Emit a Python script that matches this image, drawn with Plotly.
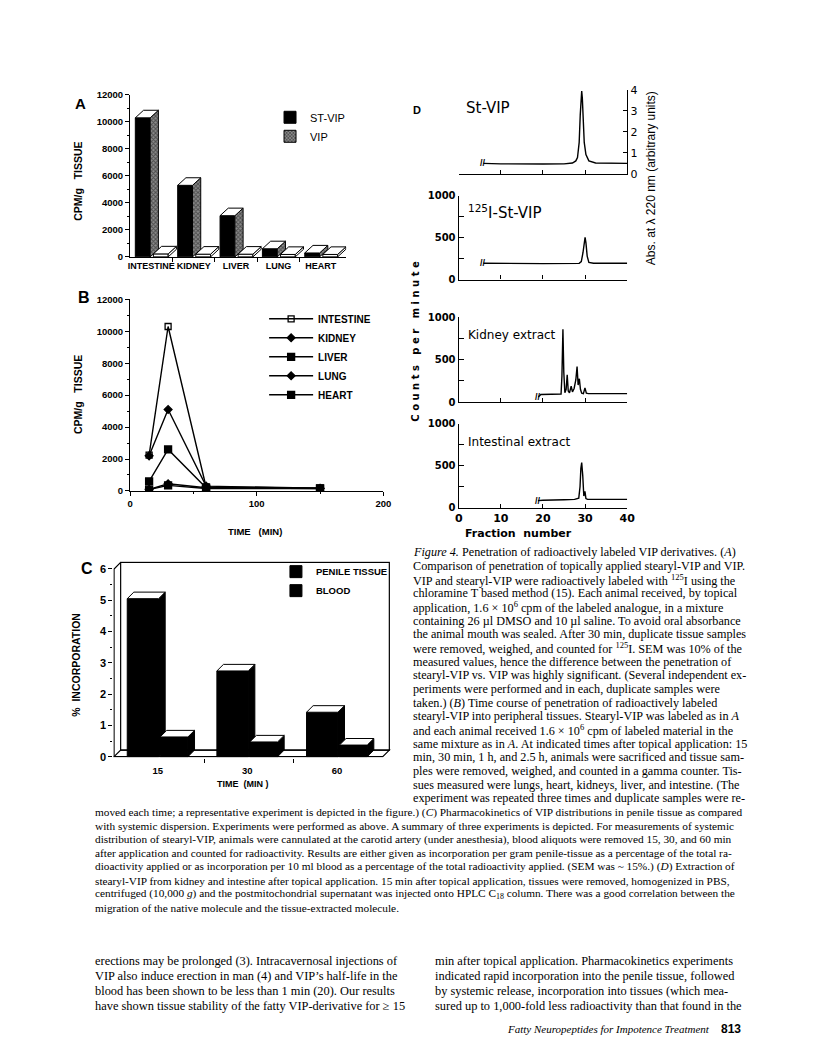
import plotly.graph_objects as go

W, H = 816, 1057

# ---------------- data ----------------
# Panel A : CPM/g tissue 30 min after topical application
a_tissues = ["INTESTINE", "KIDNEY", "LIVER", "LUNG", "HEART"]
a_st_vip = [10300, 5300, 3050, 600, 290]
a_vip = [220, 200, 200, 180, 180]
a_yticks = [0, 2000, 4000, 6000, 8000, 10000, 12000]

# Panel B : time course (min) of CPM/g tissue
b_time = [15, 30, 60, 150]
b_intestine = [2250, 10300, 250, 180]
b_kidney = [2200, 5100, 300, 170]
b_liver = [600, 2600, 200, 160]
b_lung = [100, 450, 200, 150]
b_heart = [80, 350, 150, 150]
b_xticks = [0, 100, 200]

# Panel C : % incorporation
c_times = ["15", "30", "60"]
c_penile = [5.05, 2.74, 1.42]
c_blood = [0.63, 0.47, 0.37]
c_yticks = [0, 1, 2, 3, 4, 5, 6]

# Panel D : HPLC profiles (fraction number vs signal)
d_frac_ticks = [0, 10, 20, 30, 40]
d_cpm_ticks = [0, 500, 1000]
d_cpm_minor = [250, 750]
d_abs_ticks = [0, 1, 2, 3, 4]

d_stvip_frac = [5.85, 10, 20, 25, 27.0, 27.8, 28.2, 28.6, 28.85, 29.05, 29.2, 29.35, 29.55, 29.8, 30.2, 30.9, 32.5, 40]
d_stvip_abs = [0.5, 0.48, 0.47, 0.48, 0.52, 0.62, 0.78, 1.5, 2.8, 3.85, 3.95, 3.6, 2.6, 1.5, 0.92, 0.62, 0.52, 0.5]

d_i125_frac = [5.85, 10, 20, 28.6, 29.1, 29.5, 29.8, 30.0, 30.2, 30.5, 30.9, 32, 40]
d_i125_cpm = [195, 192, 190, 193, 215, 320, 470, 502, 440, 280, 205, 195, 195]

d_kidney_frac = [18.9, 19.5, 22, 24.3, 24.5, 24.74, 24.95, 25.2, 25.5, 25.76, 26.0, 26.3, 26.7, 27.0, 27.4,
                 27.8, 28.1, 28.35, 28.64, 28.9, 29.2, 29.6, 29.97, 30.3, 30.8, 35, 40]
d_kidney_cpm = [60, 90, 92, 95, 300, 857, 350, 110, 150, 322, 130, 110, 186, 120, 160,
                260, 419, 200, 275, 150, 105, 100, 167, 105, 100, 100, 100]

d_intest_frac = [18.8, 20, 25, 27.5, 28.5, 28.8, 29.0, 29.2, 29.45, 29.7, 29.97, 30.2, 30.6, 32, 40]
d_intest_cpm = [85, 90, 95, 100, 115, 250, 470, 537, 380, 140, 196, 110, 100, 100, 100]

# ---------------- text ----------------
cap_right = [
    "<i>Figure 4.</i> Penetration of radioactively labeled VIP derivatives. (<i>A</i>)",
    "Comparison of penetration of topically applied stearyl-VIP and VIP.",
    "VIP and stearyl-VIP were radioactively labeled with <sup>125</sup>I using the",
    "chloramine T based method (15). Each animal received, by topical",
    "application, 1.6 × 10<sup>6</sup> cpm of the labeled analogue, in a mixture",
    "containing 26 µl DMSO and 10 µl saline. To avoid oral absorbance",
    "the animal mouth was sealed. After 30 min, duplicate tissue samples",
    "were removed, weighed, and counted for <sup>125</sup>I. SEM was 10% of the",
    "measured values, hence the difference between the penetration of",
    "stearyl-VIP vs. VIP was highly significant. (Several independent ex-",
    "periments were performed and in each, duplicate samples were",
    "taken.) (<i>B</i>) Time course of penetration of radioactively labeled",
    "stearyl-VIP into peripheral tissues. Stearyl-VIP was labeled as in <i>A</i>",
    "and each animal received 1.6 × 10<sup>6</sup> cpm of labeled material in the",
    "same mixture as in <i>A</i>. At indicated times after topical application: 15",
    "min, 30 min, 1 h, and 2.5 h, animals were sacrificed and tissue sam-",
    "ples were removed, weighed, and counted in a gamma counter. Tis-",
    "sues measured were lungs, heart, kidneys, liver, and intestine. (The",
    "experiment was repeated three times and duplicate samples were re-",
]
cap_full = [
    "moved each time; a representative experiment is depicted in the figure.) (<i>C</i>) Pharmacokinetics of VIP distributions in penile tissue as compared",
    "with systemic dispersion. Experiments were performed as above. A summary of three experiments is depicted. For measurements of systemic",
    "distribution of stearyl-VIP, animals were cannulated at the carotid artery (under anesthesia), blood aliquots were removed 15, 30, and 60 min",
    "after application and counted for radioactivity. Results are either given as incorporation per gram penile-tissue as a percentage of the total ra-",
    "dioactivity applied or as incorporation per 10 ml blood as a percentage of the total radioactivity applied. (SEM was ~ 15%.) (<i>D</i>) Extraction of",
    "stearyl-VIP from kidney and intestine after topical application. 15 min after topical application, tissues were removed, homogenized in PBS,",
    "centrifuged (10,000 <i>g</i>) and the postmitochondrial supernatant was injected onto HPLC C<sub>18</sub> column. There was a good correlation between the",
    "migration of the native molecule and the tissue-extracted molecule.",
]
body_left = [
    "erections may be prolonged (3). Intracavernosal injections of",
    "VIP also induce erection in man (4) and VIP’s half-life in the",
    "blood has been shown to be less than 1 min (20). Our results",
    "have shown tissue stability of the fatty VIP-derivative for ≥ 15",
]
body_right = [
    "min after topical application. Pharmacokinetics experiments",
    "indicated rapid incorporation into the penile tissue, followed",
    "by systemic release, incorporation into tissues (which mea-",
    "sured up to 1,000-fold less radioactivity than that found in the",
]

# ---------------- style ----------------
SANS = "Liberation Sans, Arial, sans-serif"
SERIF = "Liberation Serif, Times New Roman, serif"
DSANS = "DejaVu Sans, Liberation Sans, sans-serif"
A_DX, A_DY = 0.194, 561
C_DX, C_DY = 0.0735, 0.21
HATCH = dict(shape="x", fgcolor="#111111", bgcolor="#8a8a8a", size=3, solidity=0.55)


def fx(p):
    return p / W


def fy(p):
    return 1 - p / H


def faces(centers, width, values, dx, dy):
    tx, ty, sx, sy = [], [], [], []
    for c, v in zip(centers, values):
        xl, xr = c - width / 2, c + width / 2
        tx += [xl, xl + dx, xr + dx, xr, xl, None]
        ty += [v, v + dy, v + dy, v, v, None]
        sx += [xr, xr + dx, xr + dx, xr, xr, None]
        sy += [0, dy, v + dy, v, 0, None]
    return tx, ty, sx, sy


def poly(x, y, xa, ya, fill="white", pattern=None):
    kw = dict(x=x, y=y, mode="lines", fill="toself", fillcolor=fill,
              line=dict(color="black", width=1), xaxis=xa, yaxis=ya,
              showlegend=False, hoverinfo="skip")
    if pattern:
        kw["fillpattern"] = pattern
    return go.Scatter(**kw)


fig = go.Figure()

# ---------- Panel A ----------
a_idx = list(range(len(a_tissues)))
a_st_x = [i + 0.175 for i in a_idx]
a_vip_x = [i + 0.601 for i in a_idx]
fig.add_trace(go.Bar(x=a_st_x, y=a_st_vip, width=0.35, name="ST-VIP", legend="legend2",
                     marker=dict(color="black", line=dict(color="black", width=1)),
                     xaxis="x", yaxis="y", hoverinfo="skip"))
fig.add_trace(go.Bar(x=a_vip_x, y=a_vip, width=0.35, name="VIP", showlegend=False,
                     marker=dict(color="white", line=dict(color="black", width=1)),
                     xaxis="x", yaxis="y", hoverinfo="skip"))
tx, ty, sx, sy = faces(a_st_x, 0.35, a_st_vip, A_DX, A_DY)
fig.add_trace(poly(sx, sy, "x", "y", fill="#555555", pattern=HATCH))
fig.add_trace(poly(tx, ty, "x", "y"))
tx, ty, sx, sy = faces(a_vip_x, 0.35, a_vip, A_DX, A_DY)
fig.add_trace(poly(sx, sy, "x", "y"))
fig.add_trace(poly(tx, ty, "x", "y"))
fig.add_trace(go.Bar(x=[None], y=[None], name="VIP", legend="legend2",
                     marker=dict(color="#555555", pattern=HATCH, line=dict(color="black", width=1)),
                     xaxis="x", yaxis="y"))

# ---------- Panel B ----------
b_specs = [("INTESTINE", b_intestine, "square-open", 6),
           ("KIDNEY", b_kidney, "diamond", 6),
           ("LIVER", b_liver, "square", 7),
           ("LUNG", b_lung, "diamond", 6),
           ("HEART", b_heart, "square", 7)]
for name, vals, sym, sz in b_specs:
    fig.add_trace(go.Scatter(x=b_time, y=vals, name=name, mode="lines+markers", legend="legend",
                             line=dict(color="black", width=1.4),
                             marker=dict(symbol=sym, size=sz, color="black", line=dict(color="black", width=1.3)),
                             xaxis="x2", yaxis="y2", hoverinfo="skip"))

# ---------- Panel C ----------
c_idx = list(range(len(c_times)))
c_pen_x = [i + 0.175 for i in c_idx]
c_blood_x = [i + 0.522 for i in c_idx]
fig.add_trace(go.Bar(x=c_pen_x, y=c_penile, width=0.35, name="PENILE TISSUE", legend="legend3",
                     marker=dict(color="black", line=dict(color="black", width=1)),
                     xaxis="x3", yaxis="y3", hoverinfo="skip"))
fig.add_trace(go.Bar(x=c_blood_x, y=c_blood, width=0.31, name="BLOOD", legend="legend3",
                     marker=dict(color="black", line=dict(color="black", width=1)),
                     xaxis="x3", yaxis="y3", hoverinfo="skip"))
tx, ty, sx, sy = faces(c_pen_x, 0.35, c_penile, C_DX, C_DY)
fig.add_trace(poly(sx, sy, "x3", "y3", fill="black"))
fig.add_trace(poly(tx, ty, "x3", "y3"))
tx, ty, sx, sy = faces(c_blood_x, 0.31, c_blood, C_DX, C_DY)
fig.add_trace(poly(sx, sy, "x3", "y3", fill="black"))
fig.add_trace(poly(tx, ty, "x3", "y3"))

# ---------- Panel D ----------
dline = dict(color="black", width=1.4)
fig.add_trace(go.Scatter(x=d_stvip_frac, y=d_stvip_abs, mode="lines", line=dline,
                         xaxis="x4", yaxis="y4", showlegend=False, hoverinfo="skip"))
fig.add_trace(go.Scatter(x=d_i125_frac, y=d_i125_cpm, mode="lines", line=dline,
                         xaxis="x5", yaxis="y5", showlegend=False, hoverinfo="skip"))
fig.add_trace(go.Scatter(x=d_kidney_frac, y=d_kidney_cpm, mode="lines", line=dline,
                         xaxis="x6", yaxis="y6", showlegend=False, hoverinfo="skip"))
fig.add_trace(go.Scatter(x=d_intest_frac, y=d_intest_cpm, mode="lines", line=dline,
                         xaxis="x7", yaxis="y7", showlegend=False, hoverinfo="skip"))

# ---------------- axes ----------------
common = dict(showgrid=False, zeroline=False, linecolor="black", tickcolor="black", fixedrange=True)
bold = lambda s, fam=SANS: dict(family=fam, size=s, color="black", weight="bold")
reg = lambda s, fam=SANS: dict(family=fam, size=s, color="black")

layout = dict(
    width=W, height=H, margin=dict(l=0, r=0, t=0, b=0),
    paper_bgcolor="white", plot_bgcolor="rgba(0,0,0,0)", barmode="overlay",
    # A
    xaxis=dict(domain=[fx(128), fx(347.4)], range=[-0.123, 4.98], anchor="y", showline=True, linewidth=1.2,
               tickmode="array", tickvals=[i + 0.377 for i in a_idx], ticktext=a_tissues, ticks="",
               tickangle=0, tickfont=bold(9),
               minor=dict(tickmode="array", tickvals=[i + 0.877 for i in a_idx[:-1]], ticks="outside",
                          ticklen=4, tickcolor="black"), **common),
    yaxis=dict(domain=[fy(254), fy(90)], range=[0, 12000], anchor="x", showline=True, linewidth=1.2,
               tickmode="array", tickvals=a_yticks, ticktext=[str(v) for v in a_yticks],
               ticks="outside", ticklen=4, tickfont=bold(9.5),
               minor=dict(dtick=1000, ticks="outside", ticklen=2, tickcolor="black"), **common),
    # B
    xaxis2=dict(domain=[fx(128), fx(385)], range=[0, 200], anchor="y2", showline=True, linewidth=1.2,
                tickmode="array", tickvals=b_xticks, ticktext=[str(v) for v in b_xticks],
                ticks="outside", ticklen=4, tickfont=bold(9.5),
                minor=dict(dtick=50, ticks="outside", ticklen=2, tickcolor="black"), **common),
    yaxis2=dict(domain=[fy(491), fy(297)], range=[0, 12000], anchor="x2", showline=True, linewidth=1.2,
                tickmode="array", tickvals=a_yticks, ticktext=[str(v) for v in a_yticks],
                ticks="outside", ticklen=4, tickfont=bold(9.5),
                minor=dict(dtick=1000, ticks="outside", ticklen=2, tickcolor="black"), **common),
    # C
    xaxis3=dict(domain=[fx(110.97), fx(393.5)], range=[-0.155, 2.95], anchor="y3", showline=False,
                tickmode="array", tickvals=[i + 0.34 for i in c_idx], ticktext=c_times, ticks="",
                tickfont=bold(9.5), ticklabelstandoff=6,
                minor=dict(tickmode="array", tickvals=[i + 0.86 for i in c_idx[:-1]], ticks="outside",
                           ticklen=4, tickcolor="black"), **common),
    yaxis3=dict(domain=[fy(760.95), fy(562.06)], range=[-0.03, 6.25], anchor="x3", showline=False,
                tickmode="array", tickvals=c_yticks, ticktext=[str(v) for v in c_yticks],
                ticks="outside", ticklen=4, tickfont=bold(11),
                minor=dict(tickmode="array", tickvals=[v + 0.5 for v in c_yticks[:-1]], ticks="outside",
                           ticklen=2, tickcolor="black"), **common),
)

DX0, DX1 = 461.5, 632.5
d_rows = [(4, 170, 85), (5, 277, 192), (6, 401, 315), (7, 508, 423)]
for n, ybot, ytop in d_rows:
    layout[f"xaxis{n}"] = dict(domain=[fx(DX0), fx(DX1)], range=[0, 40], anchor=f"y{n}", showline=True,
                               linewidth=1.3, tickmode="array", tickvals=d_frac_ticks,
                               ticktext=[str(v) for v in d_frac_ticks], ticks="inside",
                               ticklen=4, showticklabels=(n == 7), tickfont=bold(11, DSANS), **common)
    if n == 4:
        layout["yaxis4"] = dict(domain=[fy(ybot), fy(ytop)], range=[0, 4], anchor="x4", side="right",
                                showline=True, linewidth=1.3, tickmode="array", tickvals=d_abs_ticks,
                                ticktext=[str(v) for v in d_abs_ticks],
                                ticks="inside", ticklen=4, tickfont=reg(11, DSANS), **common)
    else:
        layout[f"yaxis{n}"] = dict(domain=[fy(ybot), fy(ytop)], range=[0, 1000], anchor=f"x{n}",
                                   showline=True, linewidth=1.3, tickmode="array", tickvals=d_cpm_ticks,
                                   ticktext=[str(v) for v in d_cpm_ticks], ticks="inside", ticklen=5,
                                   minor=dict(tickmode="array", tickvals=d_cpm_minor, ticks="inside",
                                              ticklen=5, tickcolor="black"),
                                   tickfont=bold(10, DSANS), **common)
layout["yaxis9"] = dict(overlaying="y5", anchor="x5", side="right", range=[0, 4], showline=True,
                        linewidth=1.3, tickmode="array", tickvals=d_abs_ticks,
                        ticktext=[str(v) for v in d_abs_ticks], ticks="inside", ticklen=4,
                        tickfont=reg(11, DSANS), **common)

# legends
leg_common = dict(bgcolor="rgba(0,0,0,0)", borderwidth=0, xanchor="left", yanchor="top", tracegroupgap=0)
layout["legend"] = dict(x=fx(264), y=fy(302), font=bold(10), itemwidth=44, **leg_common)
layout["legend2"] = dict(x=fx(270), y=fy(98), font=reg(11), **leg_common)
layout["legend3"] = dict(x=fx(276), y=fy(558), font=bold(9.5), **leg_common)

# shapes: 3D frame of panel C
C_XMIN, C_XMAX, C_TOP = -0.147, 2.85, 6
shapes = [
    dict(type="path", xref="x3", yref="y3", layer="below", fillcolor="white",
         line=dict(color="black", width=1.2),
         path=f"M{C_XMIN},0 L{C_XMIN + C_DX},{C_DY} L{C_XMAX + C_DX},{C_DY} L{C_XMAX},0 Z"),
    dict(type="rect", xref="x3", yref="y3", layer="below", line=dict(color="black", width=1.2),
         x0=C_XMIN + C_DX, y0=C_DY, x1=C_XMAX + C_DX, y1=C_TOP + C_DY),
    dict(type="path", xref="x3", yref="y3", layer="below", line=dict(color="black", width=1.2),
         path=f"M{C_XMIN},0 L{C_XMIN},{C_TOP} L{C_XMIN + C_DX},{C_TOP + C_DY}"),
]
layout["shapes"] = shapes


def ann(text, x, y, font, angle=0, xanchor="center", yanchor="middle"):
    return dict(text=text, x=fx(x), y=fy(y), xref="paper", yref="paper", showarrow=False, font=font,
                textangle=angle, xanchor=xanchor, yanchor=yanchor)


annotations = [
    ann("A", 78, 99, bold(15)),
    ann("B", 81, 295, bold(16)),
    ann("C", 84, 570, bold(16)),
    ann("D", 419, 105, bold(11)),
    ann("CPM/g\u00a0\u00a0\u00a0TISSUE", 75, 177, bold(10.5), angle=-90),
    ann("CPM/g\u00a0\u00a0\u00a0TISSUE", 75, 393, bold(10.5), angle=-90),
    ann("TIME\u00a0\u00a0\u00a0(MIN)", 255, 532, bold(9.5)),
    ann("%\u00a0 INCORPORATION", 73, 667, bold(10.5), angle=-90),
    ann("TIME\u00a0\u00a0(MIN )", 243, 788, bold(9)),
    ann("St-VIP", 467, 103, reg(15, DSANS), xanchor="left"),
    ann("<sup>125</sup>I-St-VIP", 469, 209, reg(15, DSANS), xanchor="left"),
    ann("Kidney extract", 469, 333, reg(12, DSANS), xanchor="left"),
    ann("Intestinal extract", 469, 441, reg(12, DSANS), xanchor="left"),
    ann("Fraction\u00a0\u00a0number", 522, 534, bold(11, DSANS)),
    ann("C o u n t s\u00a0\u00a0 p e r\u00a0\u00a0 m i n u t e", 418, 339, bold(10, DSANS), angle=-90),
    ann("Abs. at λ 220 nm (arbitrary units)", 657, 174, reg(12), angle=-90),
]
# break marks at the start of each chromatogram
for xs, ys, xa, ya in [(d_stvip_frac, d_stvip_abs, "x4", "y4"), (d_i125_frac, d_i125_cpm, "x5", "y5"),
                       (d_kidney_frac, d_kidney_cpm, "x6", "y6"), (d_intest_frac, d_intest_cpm, "x7", "y7")]:
    annotations.append(dict(text="//", x=xs[0], y=ys[0], xref=xa, yref=ya, showarrow=False,
                            font=bold(9), xanchor="center", yanchor="middle"))

for k, line in enumerate(cap_right):
    annotations.append(ann(line, 413, 553 + 13.85 * k, reg(12.2, SERIF), xanchor="left"))
for k, line in enumerate(cap_full):
    annotations.append(ann(line, 90, 553 + 13.85 * (len(cap_right) + k), reg(11.3, SERIF), xanchor="left"))
for k, line in enumerate(body_left):
    annotations.append(ann(line, 90, 967 + 15 * k, reg(12.4, SERIF), xanchor="left"))
for k, line in enumerate(body_right):
    annotations.append(ann(line, 435, 967 + 15 * k, reg(12.4, SERIF), xanchor="left"))
annotations.append(ann("<i>Fatty Neuropeptides for Impotence Treatment</i>", 508, 1036, reg(11, SERIF), xanchor="left"))
annotations.append(ann("813", 726, 1036, bold(12), xanchor="left"))
layout["annotations"] = annotations

fig.update_layout(**layout)
fig.write_html("out.html", config={"displayModeBar": False},
               post_script="document.body.style.margin='0';document.body.style.overflow='hidden';")
